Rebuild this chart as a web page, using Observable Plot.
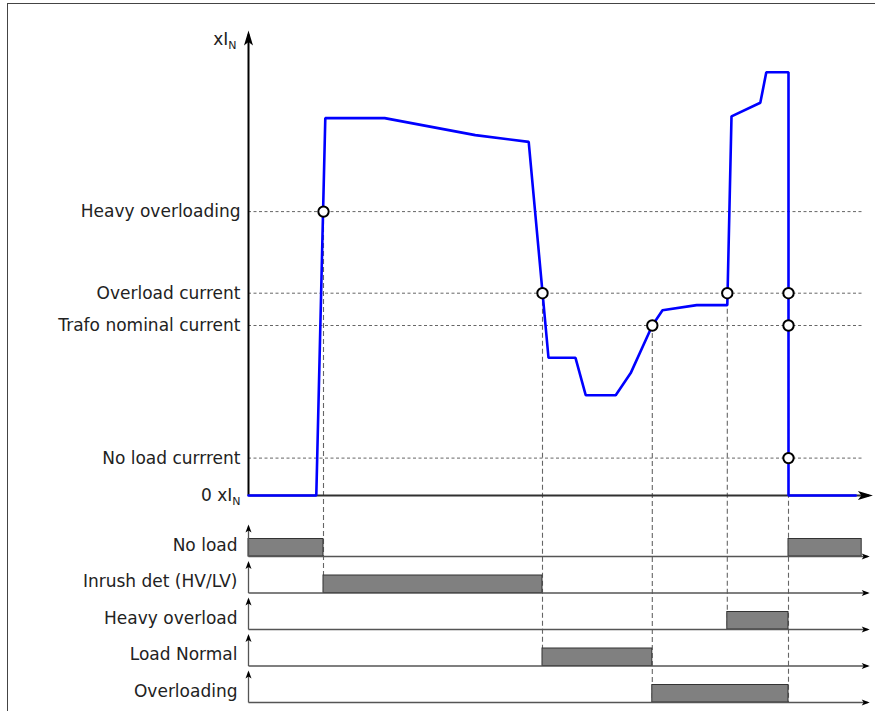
<!DOCTYPE html>
<html>
<head>
<meta charset="utf-8">
<script src="https://cdn.jsdelivr.net/npm/d3@7"></script>
<script src="https://cdn.jsdelivr.net/npm/@observablehq/plot@0.6"></script>
<style>
  html, body { margin: 0; padding: 0; background: #fff; }
  #wrap { position: relative; width: 875px; height: 711px; overflow: hidden; }
  #frame { position: absolute; left: 7px; top: 3px; width: 900px; height: 800px;
           border-left: 1.6px solid #444; border-top: 1.6px solid #444; pointer-events: none; }
  svg { display: block; }
</style>
</head>
<body>
<div id="wrap"><div id="chart"></div><div id="frame"></div></div>
<script>
// ---- data (time in arbitrary units, current in xI_N) ----
const curT = [0, 11.3, 12.8, 22.7, 37.8, 46.7, 50, 54.5, 56.2, 61.2, 63.7, 67.3, 69, 74.7, 79.8, 80.5, 85.3, 86.3, 90, 90, 101.2];
const curI = [0, 0, 2.22, 2.22, 2.12, 2.08, 0.81, 0.81, 0.59, 0.59, 0.72, 1.0, 1.09, 1.12, 1.12, 2.23, 2.31, 2.49, 2.49, 0, 0];

const levelNames  = ["Heavy overloading", "Overload current", "Trafo nominal current", "No load currrent", "0 xI_N"];
const levelValues = [1.67, 1.19, 1.0, 0.22, 0];

const signals = ["No load", "Inrush det (HV/LV)", "Heavy overload", "Load Normal", "Overloading"];
const barSignal = ["No load", "No load", "Inrush det (HV/LV)", "Heavy overload", "Load Normal", "Overloading"];
const barStart  = [0, 90, 12.5, 79.8, 49, 67.3];
const barEnd    = [12.5, 102.2, 49, 90, 67.3, 90];

const eventT     = [12.5, 49, 67.3, 79.8, 90];
const eventLevel = [1.67, 1.19, 1.0, 1.19, 1.19];
const eventRow   = ["Inrush det (HV/LV)", "Load Normal", "Overloading", "Heavy overload", "Overloading"];

const markT = [12.5, 49, 67.3, 79.8, 90, 90, 90];
const markI = [1.67, 1.19, 1.0, 1.19, 1.19, 1.0, 0.22];

// ---- layout helpers (pixels -> y units; 170 px per xI_N) ----
const PPU = 170;
const yTop = 495 / PPU, yBottom = -(711 - 495) / PPU;
const rowFirst = (556 - 495) / PPU, rowStep = 36.5 / PPU, barH = 17.5 / PPU;
const rowBase = s => -(rowFirst + signals.indexOf(s) * rowStep);
const tEnd = 104.5;

const current = curT.map((t, i) => ({t, I: curI[i]}));
const levels = levelNames.map((label, i) => ({label, value: levelValues[i]}));
const bars = barSignal.map((s, i) => ({s, t1: barStart[i], t2: barEnd[i]}));
const events = eventT.map((t, i) => ({t, level: eventLevel[i], row: eventRow[i]}));
const marks = markT.map((t, i) => ({t, I: markI[i]}));
const dashLevels = levels.filter(d => d.value > 0);

const font = "DejaVu Sans";
const FS = 17;
const chart = Plot.plot({
  width: 875, height: 711,
  marginLeft: 248, marginRight: 0, marginTop: 0, marginBottom: 0,
  x: {domain: [0, tEnd], axis: null},
  y: {domain: [yBottom, yTop], axis: null},
  style: {fontFamily: font, fontSize: FS + "px", background: "white", color: "#222"},
  marks: [
    Plot.ruleY(dashLevels, {y: "value", x1: 0, x2: 102.6, stroke: "#666", strokeWidth: 1, strokeDasharray: "3,2.5"}),
    Plot.ruleX(events, {x: "t", y1: "level", y2: d => rowBase(d.row), stroke: "#666", strokeWidth: 1.1, strokeDasharray: "5,3"}),
    Plot.rect(bars, {x1: "t1", x2: "t2", y1: d => rowBase(d.s), y2: d => rowBase(d.s) + barH, fill: "#808080", stroke: "#333", strokeWidth: 1}),
    Plot.link(signals, {x1: 0, x2: 103.2, y1: d => rowBase(d), y2: d => rowBase(d), stroke: "#555", strokeWidth: 1.3}),
    Plot.link(signals, {x1: 0, x2: 0, y1: d => rowBase(d), y2: d => rowBase(d) + 30 / PPU, stroke: "#555", strokeWidth: 1.3}),
    Plot.link([0], {x1: 0, x2: 0, y1: 0, y2: (495 - 34) / PPU, stroke: "#000", strokeWidth: 2}),
    Plot.link([0], {x1: 0, x2: 103.4, y1: 0, y2: 0, stroke: "#303030", strokeWidth: 2}),
    Plot.line(current, {x: "t", y: "I", stroke: "#0000ff", strokeWidth: 2.6, strokeLinejoin: "miter"}),
    Plot.dot(marks, {x: "t", y: "I", r: 5.2, fill: "white", stroke: "#000", strokeWidth: 2}),
    Plot.text(levels, {x: 0, y: "value", text: "label", textAnchor: "end", dx: -8, fontSize: FS, fill: "#222"}),
    Plot.text(signals, {x: 0, y: d => rowBase(d) + 11 / PPU, text: d => d, textAnchor: "end", dx: -11, fontSize: FS, fill: "#222"}),
    Plot.text(["xI_N"], {x: 0, y: (495 - 39) / PPU, text: d => d, textAnchor: "end", dx: -12, fontSize: FS, fill: "#222"})
  ]
});

// arrow-head markers and subscripts
const svg = d3.select(chart);
const defs = svg.append("defs");
function addMarker(id, len, half, notch, ref) {
  defs.append("marker").attr("id", id)
    .attr("markerUnits", "userSpaceOnUse").attr("orient", "auto")
    .attr("viewBox", `${-len - 1} ${-half - 1} ${len + 6} ${2 * half + 2}`)
    .attr("markerWidth", len + 6).attr("markerHeight", 2 * half + 2)
    .attr("refX", ref).attr("refY", 0)
    .style("overflow", "visible")
    .append("path").attr("d", `M0,0L${-len},${-half}L${-len + notch},0L${-len},${half}Z`)
    .attr("fill", "#000");
}
addMarker("bigArrow", 15, 4.5, 3.5, -4);
addMarker("smallArrow", 8, 3, 2, -2);
svg.selectAll('g[aria-label="link"]').each(function () {
  const g = d3.select(this);
  const s = (g.attr("stroke") || "").toLowerCase();
  g.selectAll("path").attr("marker-end", s === "#555" ? "url(#smallArrow)" : "url(#bigArrow)");
});

svg.selectAll("text").each(function () {
  const t = d3.select(this);
  const s = this.textContent;
  if (s.includes("_N")) {
    t.text("");
    t.append("tspan").text(s.replace("_N", ""));
    t.append("tspan").text("N").attr("font-size", "11px").attr("dy", "0.35em");
  }
});

document.getElementById("chart").appendChild(chart);
</script>
</body>
</html>
